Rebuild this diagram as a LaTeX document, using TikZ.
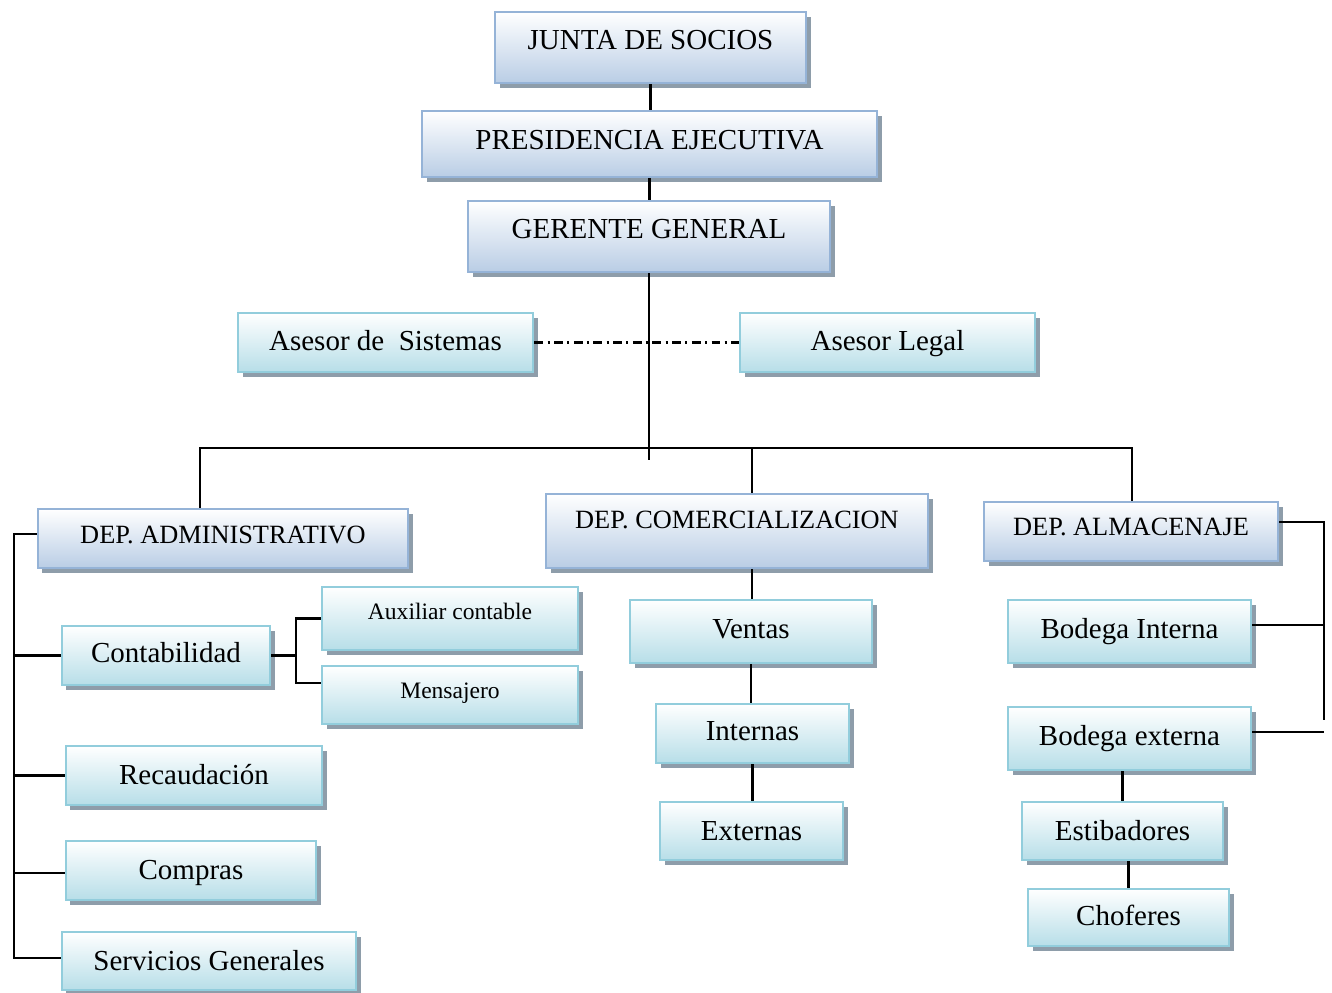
\documentclass[tikz,border=0pt]{standalone}
\usepackage{fontspec}
\setmainfont{Liberation Serif}
\usetikzlibrary{shadows}
\definecolor{lavB}{HTML}{95B3D7}
\definecolor{lavF}{HTML}{B9CDE5}
\definecolor{cyaB}{HTML}{92CDDC}
\definecolor{cyaF}{HTML}{B7DEE8}
\definecolor{shadowc}{HTML}{8E9DAA}
\tikzset{
  wh/.style 2 args={minimum width=#1*0.02cm,minimum height=#2*0.02cm},
  lift/.style={text depth=#1pt},
  boss/.style  ={rectangle,draw=lavB,line width=1.6pt,top color=white,bottom color=lavF,
                 general shadow={fill=shadowc,shadow xshift=0.09cm,shadow yshift=-0.09cm},
                 inner sep=0pt,text height=12pt,text depth=2pt,
                 font=\fontsize{16.5}{18}\selectfont},
  dept/.style  ={boss,font=\fontsize{15}{17}\selectfont},
  unit/.style  ={boss,draw=cyaB,bottom color=cyaF},
  small/.style ={unit,font=\fontsize{13.4}{15}\selectfont},
  conn/.style  ={line width=1.3pt},
  staff/.style ={line width=1.3pt,dash pattern=on 5pt off 2.5pt on 1.2pt off 2.5pt}
}

\begin{document}
\begin{tikzpicture}[x=0.02cm,y=-0.02cm]
  \useasboundingbox (0,0) rectangle (1332,992);
  % Nodes
  \node (junta)  [boss, wh={311}{71}, lift=9.6] at (650.5,47.5)  {JUNTA DE SOCIOS};
  \node (pres)   [boss, wh={455}{66}, lift=5.6] at (649.5,144)   {PRESIDENCIA EJECUTIVA};
  \node (ger)    [boss, wh={362}{71}, lift=9.6] at (649,236.5)   {GERENTE GENERAL};
  \node (asis)   [unit, wh={295}{59}, lift=2.8] at (385.5,342.5) {Asesor de\ \ Sistemas};
  \node (aleg)   [unit, wh={295}{59}, lift=2.8] at (887.5,342.5) {Asesor Legal};

  \node (dadm)   [dept, wh={370}{59}, lift=6.1]  at (223,538.5)  {DEP. ADMINISTRATIVO};
  \node (dcom)   [dept, wh={382}{74}, lift=14.5] at (737,531)    {DEP. COMERCIALIZACION};
  \node (dalm)   [dept, wh={294}{59}, lift=7.2]  at (1131,531.5) {DEP. ALMACENAJE};

  \node (conta)  [unit,  wh={208}{59}, lift=3.9]  at (166,655.5)  {Contabilidad};
  \node (aux)    [small, wh={256}{63}, lift=10.5] at (450,618.5)  {Auxiliar contable};
  \node (mens)   [small, wh={256}{58}, lift=7.7]  at (450,695)    {Mensajero};
  \node (recau)  [unit,  wh={256}{59}, lift=1.4]  at (194,775.5)  {Recaudación};
  \node (compras)[unit,  wh={250}{59}, lift=1.4]  at (191,870.5)  {Compras};
  \node (serv)   [unit,  wh={294}{58}, lift=1.6]  at (209,961)    {Servicios Generales};

  \node (ventas) [unit, wh={242}{63}, lift=3.9] at (751,631.5)  {Ventas};
  \node (intern) [unit, wh={193}{59}, lift=3.9] at (752.5,733.5) {Internas};
  \node (extern) [unit, wh={183}{58}, lift=1.1] at (751.5,831)  {Externas};

  \node (bint)   [unit, wh={243}{63}, lift=3.9] at (1129.5,631.5) {Bodega Interna};
  \node (bext)   [unit, wh={243}{63}, lift=3.9] at (1129.5,738.5) {Bodega externa};
  \node (estib)  [unit, wh={201}{58}, lift=1.1] at (1122.5,831)   {Estibadores};
  \node (chof)   [unit, wh={201}{57}, lift=2.8] at (1128.5,917.5) {Choferes};

  % Points of the lines
  \coordinate (gend) at (649,460);
  \coordinate (busL) at (200,448);
  \coordinate (busC) at (752,448);
  \coordinate (busR) at (1132,448);
  \coordinate (lb)   at (14,958);
  \coordinate (brB)  at (296,683);
  \coordinate (rb)   at (1324,720);

  % Lines
  \draw [conn] (junta.south) -- (junta.south |- pres.north);
  \draw [conn] (pres.south) -- (pres.south |- ger.north);
  \draw [conn] (ger.south) -- (gend);
  \draw [staff] (asis.east) -- (aleg.west);
  \draw [conn] (busL |- dadm.north) -- (busL) -- (busR) -- (busR |- dalm.north);
  \draw [conn] (busC) -- (busC |- dcom.north);

  \draw [conn] ([yshift=0.09cm]dadm.west) -| (lb) -- (lb -| serv.west);
  \draw [conn] (conta.west) -- (conta.west -| lb);
  \draw [conn] (recau.west) -- (recau.west -| lb);
  \draw [conn] ([yshift=-0.05cm]compras.west) -- ([yshift=-0.05cm]compras.west -| lb);
  \draw [conn] (conta.east) -- (conta.east -| brB);
  \draw [conn] (aux.west) -| (brB) -- (brB -| mens.west);

  \draw [conn] (busC |- dcom.south) -- (busC |- ventas.north);
  \draw [conn] (ventas.south) -- (ventas.south |- intern.north);
  \draw [conn] (intern.south) -- (intern.south |- extern.north);

  \draw [conn] ([yshift=0.19cm]dalm.east) -| (rb);
  \draw [conn] ([yshift=0.13cm]bint.east) -- ([yshift=0.13cm]bint.east -| rb);
  \draw [conn] ([yshift=0.13cm]bext.east) -- ([yshift=0.13cm]bext.east -| rb);
  \draw [conn] (estib.north) -- (estib.north |- bext.south);
  \draw [conn] (chof.north) -- (chof.north |- estib.south);
\end{tikzpicture}
\end{document}
